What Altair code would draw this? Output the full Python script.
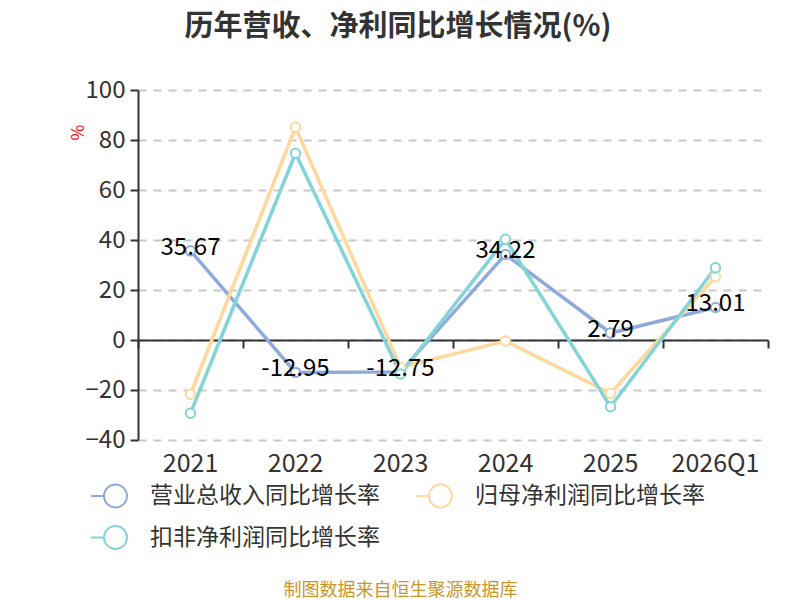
import altair as alt
import pandas as pd

categories = ["2021", "2022", "2023", "2024", "2025", "2026Q1"]
series_names = ["营业总收入同比增长率", "归母净利润同比增长率", "扣非净利润同比增长率"]
revenue = [35.67, -12.95, -12.75, 34.22, 2.79, 13.01]
net_profit = [-21.7, 85.1, -10.9, -0.4, -21.3, 25.3]
deducted = [-29.3, 74.7, -13.6, 40.3, -26.7, 28.9]
colors = ["#8eaadc", "#fed89c", "#82d4d8"]
y_ticks = [-40, -20, 0, 20, 40, 60, 80, 100]

rows = []
for name, vals in zip(series_names, [revenue, net_profit, deducted]):
    for c, v in zip(categories, vals):
        rows.append({"year": c, "series": name, "value": v})
df = pd.DataFrame(rows)
label_df = pd.DataFrame({"year": categories, "value": revenue,
                         "label": [f"{v:.2f}" for v in revenue]})

FONT = "Noto Sans CJK SC"
LEGEND_PATH = ("M-1,0L-0.47,0M0.47,0A0.47,0.47,0,1,1,-0.47,0"
               "A0.47,0.47,0,1,1,0.47,0")

x_scale = alt.Scale(type="band", domain=categories, paddingInner=0, paddingOuter=0)
y_scale = alt.Scale(domain=[-40, 100], nice=False, zero=False)
color_scale = alt.Scale(domain=series_names, range=colors)

legend = alt.Legend(
    title=None, orient="none", legendX=-48, legendY=380, columns=2,
    direction="horizontal",
    symbolType=LEGEND_PATH, symbolSize=2400, symbolStrokeWidth=2,
    symbolFillColor="white", labelFontSize=23, labelColor="#333",
    labelFont=FONT, labelOffset=9, columnPadding=32, rowPadding=-4,
    labelLimit=400,
)

y_axis = alt.Axis(
    values=y_ticks, grid=True, gridDash=[8, 7], gridColor="#c8c8c8",
    gridWidth=2, domainColor="#333", domainWidth=2, tickColor="#333",
    tickWidth=2, tickSize=8, labelFontSize=24, labelColor="#333",
    labelFont=FONT, labelPadding=5, title="%", titleColor="red",
    titleFontSize=17, titleFontWeight="normal", titleX=-63, titleY=42,
    titleAngle=90, titleAlign="center", titleBaseline="middle",
)

base = alt.Chart(df)

lines = base.mark_line(strokeWidth=3.5).encode(
    x=alt.X("year:N", scale=x_scale, sort=categories,
            axis=alt.Axis(orient="bottom", domain=False, ticks=False, grid=False,
                          labelAngle=0, labelFontSize=25, labelColor="#333",
                          labelFont=FONT, labelPadding=11,
                          title="制图数据来自恒生聚源数据库", titleColor="#c9962b",
                          titleFontSize=18, titleFontWeight="normal", titleFont=FONT,
                          titleX=262, titleY=150, titleBaseline="middle")),
    y=alt.Y("value:Q", scale=y_scale, axis=y_axis),
    stroke=alt.Stroke("series:N", scale=color_scale, sort=series_names, legend=legend),
)

points = base.mark_point(shape="circle", filled=True, fill="white",
                         size=90, strokeWidth=2, opacity=1).encode(
    x=alt.X("year:N", scale=x_scale, sort=categories,
            axis=alt.Axis(orient="bottom", offset=-100, labels=False, grid=False,
                          domainColor="#333", domainWidth=2, tickColor="#333",
                          tickWidth=2, tickSize=8, tickBand="extent", title=None)),
    y=alt.Y("value:Q", scale=y_scale),
    stroke=alt.Stroke("series:N", scale=color_scale, sort=series_names, legend=legend),
)

labels = alt.Chart(label_df).mark_text(
    fontSize=24, font=FONT, color="black", baseline="middle", dy=-3
).encode(
    x=alt.X("year:N", scale=x_scale, sort=categories, axis=None),
    y=alt.Y("value:Q", scale=y_scale),
    text="label:N",
)

chart = alt.layer(lines, points, labels).resolve_axis(x="independent").properties(
    width=630, height=350,
    autosize=alt.AutoSizeParams(type="none"),
    padding={"left": 130, "top": 82, "right": 12, "bottom": 160},
    title=alt.TitleParams("历年营收、净利同比增长情况(%)", fontSize=29, fontWeight="bold",
                          font=FONT, color="#333", anchor="middle", dx=-55, offset=36),
).configure(font=FONT).configure_view(stroke=None)

chart.save("out.html", embed_options={"renderer": "svg", "actions": False})
